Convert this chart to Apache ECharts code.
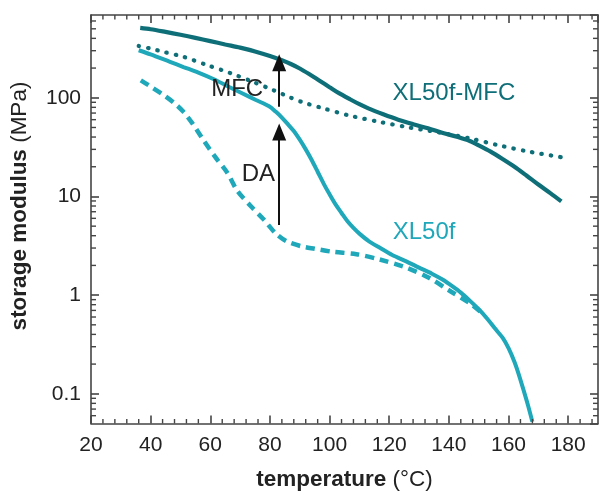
<!DOCTYPE html>
<html>
<head>
<meta charset="utf-8">
<script src="https://cdn.jsdelivr.net/npm/echarts@6/dist/echarts.min.js"></script>
<style>
  html, body { margin: 0; padding: 0; background: #fff; }
  #chart { width: 599px; height: 494px; }
</style>
</head>
<body>
<div id="chart"></div>
<script>
// ---- data (temperature in °C, storage modulus in MPa) ----
const mfcSolidT = [36.5, 40, 45, 50, 55, 60, 65, 70, 75, 80, 84, 87, 90, 93, 96.5, 100, 103, 107, 110, 113, 118, 123, 128, 133, 138, 143, 147, 150, 154, 158, 162, 166, 170, 174, 177.7];
const mfcSolidV = [510, 495, 465, 435, 405, 375, 347, 322, 295, 265, 240, 220, 198, 175, 150, 128, 112, 96, 86, 78, 68, 60, 54, 49, 44, 40, 36.5, 33, 28.5, 24, 20, 16.3, 13.2, 10.8, 8.9];

const mfcDotT = [36, 40, 44.3, 51, 59, 66.7, 74.3, 81, 86.7, 91, 96.7, 106.7, 116.7, 126.7, 136.7, 146.7, 156.7, 166.7, 177.7];
const mfcDotV = [335, 315, 292, 260, 214, 178, 145, 120, 101, 90, 80, 66, 57, 50, 44.5, 39, 33, 28.5, 25];

const xlSolidT = [36, 40, 46.5, 51, 56, 61, 66.5, 71, 75.3, 79.7, 82, 84, 86, 88, 90, 92, 94, 96, 98, 100, 102, 104, 106, 108, 110, 113, 117, 121, 125.7, 130, 134.3, 138, 141, 144, 147, 150, 153, 155.7, 158, 160, 162, 163.5, 165, 166.5, 168];
const xlSolidV = [303, 275, 231, 205, 180, 155, 128, 110, 95, 82, 72, 63, 54, 46, 37.6, 30, 23.4, 17.8, 13.5, 10.5, 8.3, 6.8, 5.6, 4.8, 4.2, 3.55, 3.0, 2.55, 2.2, 1.9, 1.65, 1.43, 1.24, 1.06, 0.88, 0.72, 0.57, 0.45, 0.37, 0.29, 0.21, 0.155, 0.11, 0.077, 0.052];

const xlDashT = [36.7, 40, 44.3, 48, 51, 54, 57.5, 61.7, 65.7, 69, 73.7, 78, 82, 85.7, 91, 95, 101, 109, 116.7, 125.7, 133.3, 140, 147.7, 152];
const xlDashV = [150, 130, 107, 88, 72, 55, 38, 25, 17.4, 11.5, 7.9, 5.8, 4.2, 3.5, 3.1, 2.95, 2.75, 2.6, 2.3, 1.9, 1.5, 1.12, 0.8, 0.62];

// axis ticks
const xTickLabels = [20, 40, 60, 80, 100, 120, 140, 160, 180];
const yTickLabels = ['0.1', '1', '10', '100'];
const yTickValues = [0.1, 1, 10, 100];
const xMinorTicks = [24, 28, 32, 36, 44, 48, 52, 56, 64, 68, 72, 76, 84, 88, 92, 96, 104, 108, 112, 116, 124, 128, 132, 136, 144, 148, 152, 156, 164, 168, 172, 176, 184, 188];
const yMinorTicks = [0.06, 0.07, 0.08, 0.09, 0.2, 0.3, 0.4, 0.5, 0.6, 0.7, 0.8, 0.9, 2, 3, 4, 5, 6, 7, 8, 9, 20, 30, 40, 50, 60, 70, 80, 90, 200, 300, 400, 500, 600];

// annotations (data coordinates)
const annoText = ['MFC', 'DA', 'XL50f-MFC', 'XL50f'];
const annoT = [69.0, 76.1, 141.7, 131.7];
const annoV = [123, 16.6, 110, 4.28];
const arrowT = [83.1, 83.1];
const arrowFrom = [81, 5.15];
const arrowTo = [226, 45];

const X_MIN = 20, X_MAX = 190, Y_MIN = 0.05, Y_MAX = 690;
const DARK = '#0f6f79';
const LIGHT = '#1fa7ba';
const INK = '#222';
const AXIS = '#444';
const FONT = '"Liberation Sans", Arial, Helvetica, sans-serif';

const zip = (t, v) => t.map((x, i) => [x, v[i]]);

const chart = echarts.init(document.getElementById('chart'), null, { renderer: 'canvas' });

function yLabel(v) {
  for (let i = 0; i < yTickValues.length; i++) {
    if (Math.abs(Math.log10(v) - Math.log10(yTickValues[i])) < 1e-6) return yTickLabels[i];
  }
  return '';
}
function xLabel(v) {
  return xTickLabels.indexOf(Math.round(v)) >= 0 && Math.abs(v - Math.round(v)) < 1e-6 ? String(Math.round(v)) : '';
}

const axisLine = { show: true, lineStyle: { color: AXIS, width: 1.6 } };
const majorTick = { show: true, inside: true, length: 8, lineStyle: { color: AXIS, width: 1.6 } };
const lineCommon = { type: 'line', smooth: 0.3, showSymbol: false, symbol: 'none', z: 3 };

const option = {
  animation: false,
  backgroundColor: '#fff',
  grid: { left: 91, right: 1, top: 15, bottom: 70.5, containLabel: false, outerBoundsMode: 'none' },
  xAxis: [
    {
      type: 'value', min: X_MIN, max: X_MAX, interval: 20, position: 'bottom',
      axisLine, axisTick: majorTick, splitLine: { show: false },
      axisLabel: { formatter: xLabel, color: INK, fontSize: 21, fontFamily: FONT, margin: 11, showMaxLabel: false },
      name: '{b|temperature} (°C)', nameLocation: 'middle', nameGap: 45,
      nameTextStyle: { color: INK, fontSize: 22.5, fontFamily: FONT,
        rich: { b: { fontWeight: 'bold', fontSize: 22.5, fontFamily: FONT, color: INK } } }
    },
    {
      type: 'value', min: X_MIN, max: X_MAX, interval: 20, position: 'top',
      axisLine, axisTick: majorTick, axisLabel: { show: false }, splitLine: { show: false }
    }
  ],
  yAxis: [
    {
      type: 'log', logBase: 10, min: Y_MIN, max: Y_MAX, position: 'left',
      axisLine, axisTick: majorTick, splitLine: { show: false }, minorTick: { show: false },
      axisLabel: { formatter: yLabel, color: INK, fontSize: 21, fontFamily: FONT, margin: 10, showMinLabel: false, showMaxLabel: false }
    },
    {
      type: 'log', logBase: 10, min: Y_MIN, max: Y_MAX, position: 'right',
      axisLine, axisTick: majorTick, axisLabel: { show: false }, splitLine: { show: false }
    }
  ],
  series: [
    Object.assign({}, lineCommon, {
      name: 'XL50f-MFC', data: zip(mfcSolidT, mfcSolidV),
      lineStyle: { color: DARK, width: 4.2 }
    }),
    Object.assign({}, lineCommon, {
      name: 'XL50f-MFC dotted', data: zip(mfcDotT, mfcDotV),
      lineStyle: { color: DARK, width: 4.2, type: [0.5, 9], cap: 'round' }
    }),
    Object.assign({}, lineCommon, {
      name: 'XL50f', data: zip(xlSolidT, xlSolidV),
      lineStyle: { color: LIGHT, width: 4 }
    }),
    Object.assign({}, lineCommon, {
      name: 'XL50f dashed', data: zip(xlDashT, xlDashV),
      lineStyle: { color: LIGHT, width: 4.5, type: [9, 6] },
      markLine: {
        silent: true, symbol: ['none', 'triangle'], symbolSize: [14, 17], precision: 3,
        label: { show: false },
        lineStyle: { color: '#111', width: 2, type: 'solid' },
        data: arrowT.map((t, i) => [{ coord: [t, arrowFrom[i]] }, { coord: [t, arrowTo[i]] }])
      }
    }),
    {
      name: 'xminor', type: 'custom', silent: true, z: 5,
      data: xMinorTicks.map(v => [v, Y_MIN]),
      renderItem: (params, api) => {
        const v = api.value(0);
        const b = api.coord([v, Y_MIN]);
        const t = api.coord([v, Y_MAX]);
        const st = { stroke: AXIS, lineWidth: 1.4 };
        return { type: 'group', children: [
          { type: 'line', shape: { x1: b[0], y1: b[1], x2: b[0], y2: b[1] - 4.5 }, style: st },
          { type: 'line', shape: { x1: t[0], y1: t[1], x2: t[0], y2: t[1] + 4.5 }, style: st }
        ] };
      }
    },
    {
      name: 'yminor', type: 'custom', silent: true, z: 5,
      data: yMinorTicks.map(v => [X_MIN, v]),
      renderItem: (params, api) => {
        const v = api.value(1);
        const l = api.coord([X_MIN, v]);
        const r = api.coord([X_MAX, v]);
        const st = { stroke: AXIS, lineWidth: 1.4 };
        return { type: 'group', children: [
          { type: 'line', shape: { x1: l[0], y1: l[1], x2: l[0] + 5, y2: l[1] }, style: st },
          { type: 'line', shape: { x1: r[0], y1: r[1], x2: r[0] - 5, y2: r[1] }, style: st }
        ] };
      }
    }
  ]
};

chart.setOption(option);

const annoColors = [INK, INK, DARK, LIGHT];
const graphics = annoText.map((txt, i) => {
  const p = chart.convertToPixel({ xAxisIndex: 0, yAxisIndex: 0 }, [annoT[i], annoV[i]]);
  return {
    type: 'text', x: p[0], y: p[1], z: 10,
    style: { text: txt, fill: annoColors[i], fontSize: 24, fontFamily: FONT, align: 'center', verticalAlign: 'middle' }
  };
});
graphics.push({
  type: 'text', x: 20, y: 206, rotation: Math.PI / 2, z: 10,
  style: {
    text: '{b|storage modulus} (MPa)', fill: INK, fontSize: 22.5, fontFamily: FONT,
    align: 'center', verticalAlign: 'middle',
    rich: { b: { fontWeight: 'bold', fontSize: 22.5, fontFamily: FONT, fill: INK } }
  }
});
chart.setOption({ graphic: graphics });
</script>
</body>
</html>
